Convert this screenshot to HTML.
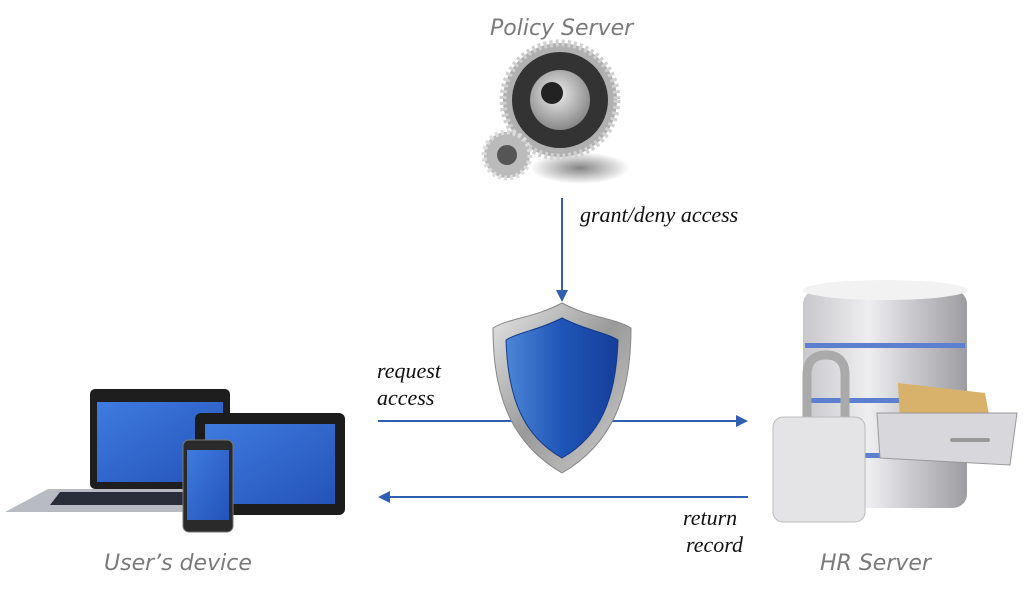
<!DOCTYPE html>
<html><head><meta charset="utf-8"><style>
html,body{margin:0;padding:0;background:#fff;}
svg{display:block}
.t{font-family:"DejaVu Sans","Liberation Sans",sans-serif;font-style:italic;fill:#7a7a7a;font-size:22px}
.s{font-family:"Liberation Serif",serif;font-style:italic;fill:#111;font-size:22px}
</style></head><body>
<svg width="1023" height="597" viewBox="0 0 1023 597" xmlns="http://www.w3.org/2000/svg">
<defs>
<linearGradient id="sh" x1="0" y1="0" x2="1" y2="0"><stop offset="0" stop-color="#4c86d6"/><stop offset=".5" stop-color="#1f55b8"/><stop offset="1" stop-color="#153f9a"/></linearGradient>
<linearGradient id="rim" x1="0" y1="0" x2="1" y2="1"><stop offset="0" stop-color="#e6e6e6"/><stop offset=".5" stop-color="#9a9a9a"/><stop offset="1" stop-color="#d0d0d0"/></linearGradient>
<linearGradient id="scr" x1="0" y1="0" x2="1" y2="1"><stop offset="0" stop-color="#3f7be0"/><stop offset="1" stop-color="#2453b8"/></linearGradient>
<linearGradient id="cyl" x1="0" y1="0" x2="1" y2="0"><stop offset="0" stop-color="#c8c8cc"/><stop offset=".4" stop-color="#eeeef0"/><stop offset="1" stop-color="#9c9ca2"/></linearGradient>
<radialGradient id="gear" cx=".45" cy=".4" r=".6"><stop offset="0" stop-color="#eee"/><stop offset="1" stop-color="#888"/></radialGradient>
<radialGradient id="shd" cx=".5" cy=".5" r=".5"><stop offset="0" stop-color="#333" stop-opacity=".6"/><stop offset="1" stop-color="#333" stop-opacity="0"/></radialGradient>
</defs>
<text class="t" x="490" y="35">Policy Server</text>
<text class="t" x="104" y="570">User’s device</text>
<text class="t" x="820" y="570">HR Server</text>
<!-- gears -->
<ellipse cx="580" cy="168" rx="50" ry="16" fill="url(#shd)"/>
<circle cx="560" cy="100" r="57" fill="#b0b0b0" stroke="#d0d0d0" stroke-width="7" stroke-dasharray="3 3"/>
<circle cx="560" cy="100" r="48" fill="#333"/>
<circle cx="560" cy="100" r="30" fill="url(#gear)"/>
<circle cx="552" cy="93" r="11" fill="#222"/>
<circle cx="507" cy="155" r="23" fill="#bbb" stroke="#ddd" stroke-width="5" stroke-dasharray="3 3"/>
<circle cx="507" cy="155" r="10" fill="#555"/>
<text class="s" x="580" y="222">grant/deny access</text>
<!-- arrows -->
<g stroke="#2f5fb3" stroke-width="2" fill="#2f5fb3">
<line x1="562" y1="198" x2="562" y2="292"/>
<polygon points="556,290 568,290 562,302" stroke="none"/>
<line x1="378" y1="421" x2="738" y2="421"/>
<polygon points="736,415 748,421 736,427" stroke="none"/>
<line x1="388" y1="497" x2="748" y2="497"/>
<polygon points="390,491 378,497 390,503" stroke="none"/>
</g>
<text class="s" x="377" y="378">request</text>
<text class="s" x="377" y="405">access</text>
<text class="s" x="683" y="525">return</text>
<text class="s" x="686" y="552">record</text>
<!-- shield -->
<path d="M562,303 C590,318 615,318 631,328 C631,400 610,445 562,473 C514,445 493,400 493,328 C509,318 534,318 562,303 Z" fill="url(#rim)" stroke="#888"/>
<path d="M562,318 C585,330 605,332 618,340 C616,400 600,436 562,458 C524,436 508,400 506,340 C519,332 539,330 562,318 Z" fill="url(#sh)" stroke="#123a8a"/>
<!-- laptop -->
<rect x="90" y="389" width="140" height="100" rx="5" fill="#1e1e1e"/>
<rect x="97" y="402" width="126" height="80" fill="url(#scr)"/>
<path d="M48,489 L250,489 L258,512 L5,512 Z" fill="#b8bcc2"/>
<path d="M60,492 L240,492 L245,505 L50,505 Z" fill="#2a2e3a"/>
<!-- tablet -->
<rect x="195" y="413" width="150" height="102" rx="6" fill="#1c1c1c"/>
<rect x="205" y="424" width="130" height="80" fill="url(#scr)"/>
<!-- phone -->
<rect x="183" y="440" width="50" height="92" rx="6" fill="#2a2a2a" stroke="#777"/>
<rect x="187" y="450" width="42" height="70" fill="url(#scr)"/>
<!-- server -->
<rect x="803" y="290" width="164" height="218" rx="14" fill="url(#cyl)"/>
<ellipse cx="885" cy="290" rx="82" ry="10" fill="#f2f2f2"/>
<rect x="805" y="343" width="160" height="5" fill="#5d7fd0"/>
<rect x="805" y="398" width="160" height="5" fill="#5d7fd0"/>
<rect x="805" y="453" width="160" height="5" fill="#5d7fd0"/>
<path d="M898,383 L985,393 L990,420 L900,420 Z" fill="#d8b26a"/>
<path d="M877,413 L1017,413 L1010,465 L880,458 Z" fill="#d8d8dc" stroke="#999"/>
<rect x="950" y="438" width="40" height="4" rx="2" fill="#999"/>
<path d="M807,425 L807,375 Q807,355 826,355 Q845,355 845,375 L845,425" fill="none" stroke="#aaa" stroke-width="9"/>
<rect x="773" y="417" width="92" height="105" rx="10" fill="#e4e4e6" stroke="#bbb"/>
</svg>
</body></html>
